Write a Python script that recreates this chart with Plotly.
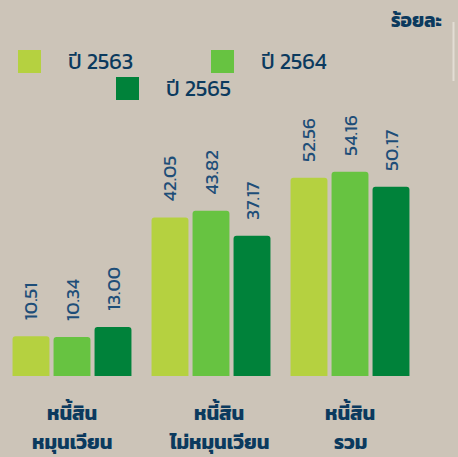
import plotly.graph_objects as go

categories = ["หนี้สินหมุนเวียน", "หนี้สินไม่หมุนเวียน", "หนี้สินรวม"]
cat_line1 = ["หนี้สิน", "หนี้สิน", "หนี้สิน"]
cat_line2 = ["หมุนเวียน", "ไม่หมุนเวียน", "รวม"]
series_names = ["ปี 2563", "ปี 2564", "ปี 2565"]
v2563 = [10.51, 42.05, 52.56]
v2564 = [10.34, 43.82, 54.16]
v2565 = [13.00, 37.17, 50.17]
unit_label = "ร้อยละ"

colors = ["#B5D140", "#67C341", "#00823A"]
navy = "#0B3A5E"
bg = "#CCC4B8"
FONT = "Kanit, Prompt, 'Noto Sans Thai', 'Noto Sans', 'DejaVu Sans', sans-serif"

W, H = 458, 457
fig = go.Figure()
NBSP = "\u00a0"
for name, vals, c in zip(series_names, [v2563, v2564, v2565], colors):
    fig.add_trace(go.Bar(
        x=categories, y=vals, name=name, marker_color=c,
        marker_line_width=0,
        text=[NBSP * 3 + f"{v:.2f}" for v in vals], textposition="outside",
        textangle=-90, constraintext="none",
        textfont=dict(size=19, color="#1E4E78", family=FONT),
        cliponaxis=False, showlegend=False,
    ))

def px_x(p):
    return p / W

def px_y(p):
    return 1 - p / H

base_px = 376
top_px = 112
yr = 70
fig.update_layout(
    width=W, height=H,
    margin=dict(l=0, r=0, t=0, b=0),
    paper_bgcolor=bg, plot_bgcolor=bg,
    barmode="group", bargap=0.115, bargroupgap=0.1,
    barcornerradius=3,
    font=dict(family=FONT, color=navy),
    xaxis=dict(domain=[px_x(2.5), px_x(419.5)], showticklabels=False,
               showgrid=False, zeroline=False, showline=False, ticks=""),
    yaxis=dict(domain=[px_y(base_px), px_y(top_px)], range=[0, yr],
               visible=False),
)

# category labels
label_xshift = [0, 8, 0]
for cat, l1, l2, xs in zip(categories, cat_line1, cat_line2, label_xshift):
    fig.add_annotation(x=cat, xref="x", y=px_y(413), yref="paper", text=f"<b>{l1}</b>",
                       showarrow=False, font=dict(size=20, color=navy, family=FONT),
                       xanchor="center", yanchor="middle", xshift=xs)
    fig.add_annotation(x=cat, xref="x", y=px_y(442), yref="paper", text=f"<b>{l2}</b>",
                       showarrow=False, font=dict(size=20, color=navy, family=FONT),
                       xanchor="center", yanchor="middle", xshift=xs)

# manual legend
leg_pos = [(18, 50), (211, 50), (116, 77)]
for (lx, ly), name, c in zip(leg_pos, series_names, colors):
    fig.add_shape(type="rect", xref="paper", yref="paper",
                  x0=px_x(lx), x1=px_x(lx + 23), y0=px_y(ly + 23), y1=px_y(ly),
                  fillcolor=c, line=dict(width=0))
    fig.add_annotation(x=px_x(lx + 48), y=px_y(ly + 12), xref="paper", yref="paper",
                       text=name, showarrow=False, xanchor="left", yanchor="middle",
                       font=dict(size=22, color=navy, family=FONT))

fig.add_annotation(x=px_x(444), y=px_y(21), xref="paper", yref="paper",
                   text=f"<b>{unit_label}</b>", showarrow=False,
                   xanchor="right", yanchor="middle",
                   font=dict(size=19, color=navy, family=FONT))
fig.add_shape(type="line", xref="paper", yref="paper",
              x0=px_x(453.5), x1=px_x(453.5), y0=px_y(22), y1=px_y(81),
              line=dict(color="#E3DDD4", width=2))

fig.write_html("out.html", config={"displayModeBar": False},
               post_script="document.body.style.margin='0';document.body.style.overflow='hidden';")
